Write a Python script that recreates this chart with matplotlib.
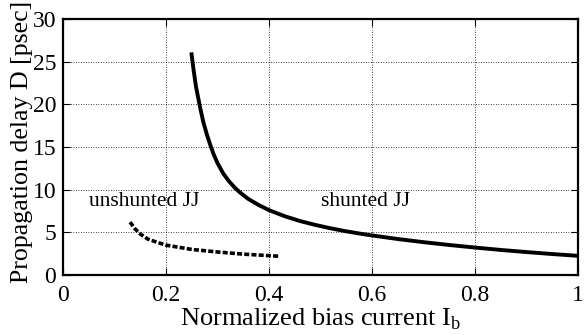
import numpy as np
import matplotlib.pyplot as plt

plt.rcParams['font.family'] = ['Liberation Serif', 'DejaVu Serif']
plt.rcParams['mathtext.fontset'] = 'custom'
plt.rcParams['mathtext.rm'] = 'Liberation Serif'

# shunted JJ curve
ib_shunted = [0.249, 0.253, 0.258, 0.266, 0.272, 0.279, 0.285, 0.292, 0.300, 0.311,
              0.322, 0.334, 0.344, 0.360, 0.380, 0.400, 0.430, 0.460, 0.490, 0.520,
              0.550, 0.580, 0.600, 0.650, 0.700, 0.750, 0.800, 0.850, 0.900, 0.950,
              1.000]
d_shunted = [26.1, 24.2, 22.1, 19.65, 18.0, 16.5, 15.4, 14.2, 13.1, 11.9,
             11.0, 10.2, 9.65, 8.9, 8.2, 7.6, 6.9, 6.33, 5.87, 5.47,
             5.12, 4.82, 4.64, 4.22, 3.85, 3.52, 3.22, 2.94, 2.69, 2.46,
             2.25]

# unshunted JJ curve
ib_unshunted = [0.130, 0.140, 0.150, 0.165, 0.182, 0.200, 0.250, 0.300, 0.350, 0.420]
d_unshunted = [6.2, 5.4, 4.8, 4.2, 3.85, 3.5, 3.0, 2.7, 2.45, 2.2]

fig = plt.figure(figsize=(5.84, 3.35), dpi=100)
ax = fig.add_axes([0.108, 0.179, 0.882, 0.764])

ax.plot(ib_shunted, d_shunted, color='black', lw=2.8, solid_capstyle='butt',
        solid_joinstyle='round')
ax.plot(ib_unshunted, d_unshunted, color='black', lw=2.6,
        linestyle=(0, (1.4, 0.6)), dash_capstyle='butt')

ax.text(0.05, 8.6, 'unshunted JJ', fontsize=15.5, va='center')
ax.text(0.50, 8.6, 'shunted JJ', fontsize=15.5, va='center')

ax.set_xlim(0, 1)
ax.set_ylim(0, 30)
ax.set_xticks([0, 0.2, 0.4, 0.6, 0.8, 1])
ax.set_xticklabels(['0', '0.2', '0.4', '0.6', '0.8', '1'])
ax.set_yticks([0, 5, 10, 15, 20, 25, 30])
ax.grid(True, color='black', linestyle=(0, (1, 2)), lw=0.6)
ax.tick_params(direction='in', top=True, right=True, labelsize=17, length=5)
ax.tick_params(axis='x', pad=7)
ax.tick_params(axis='y', pad=5)
for s in ax.spines.values():
    s.set_linewidth(1.6)

ax.set_xlabel('Normalized bias current I$_{\\mathrm{b}}$', fontsize=19, labelpad=0.5)
ax.set_ylabel('Propagation delay D [psec]', fontsize=18.6)
ax.yaxis.set_label_coords(-0.058, 0.52)

fig.savefig('out.png', dpi=100)
